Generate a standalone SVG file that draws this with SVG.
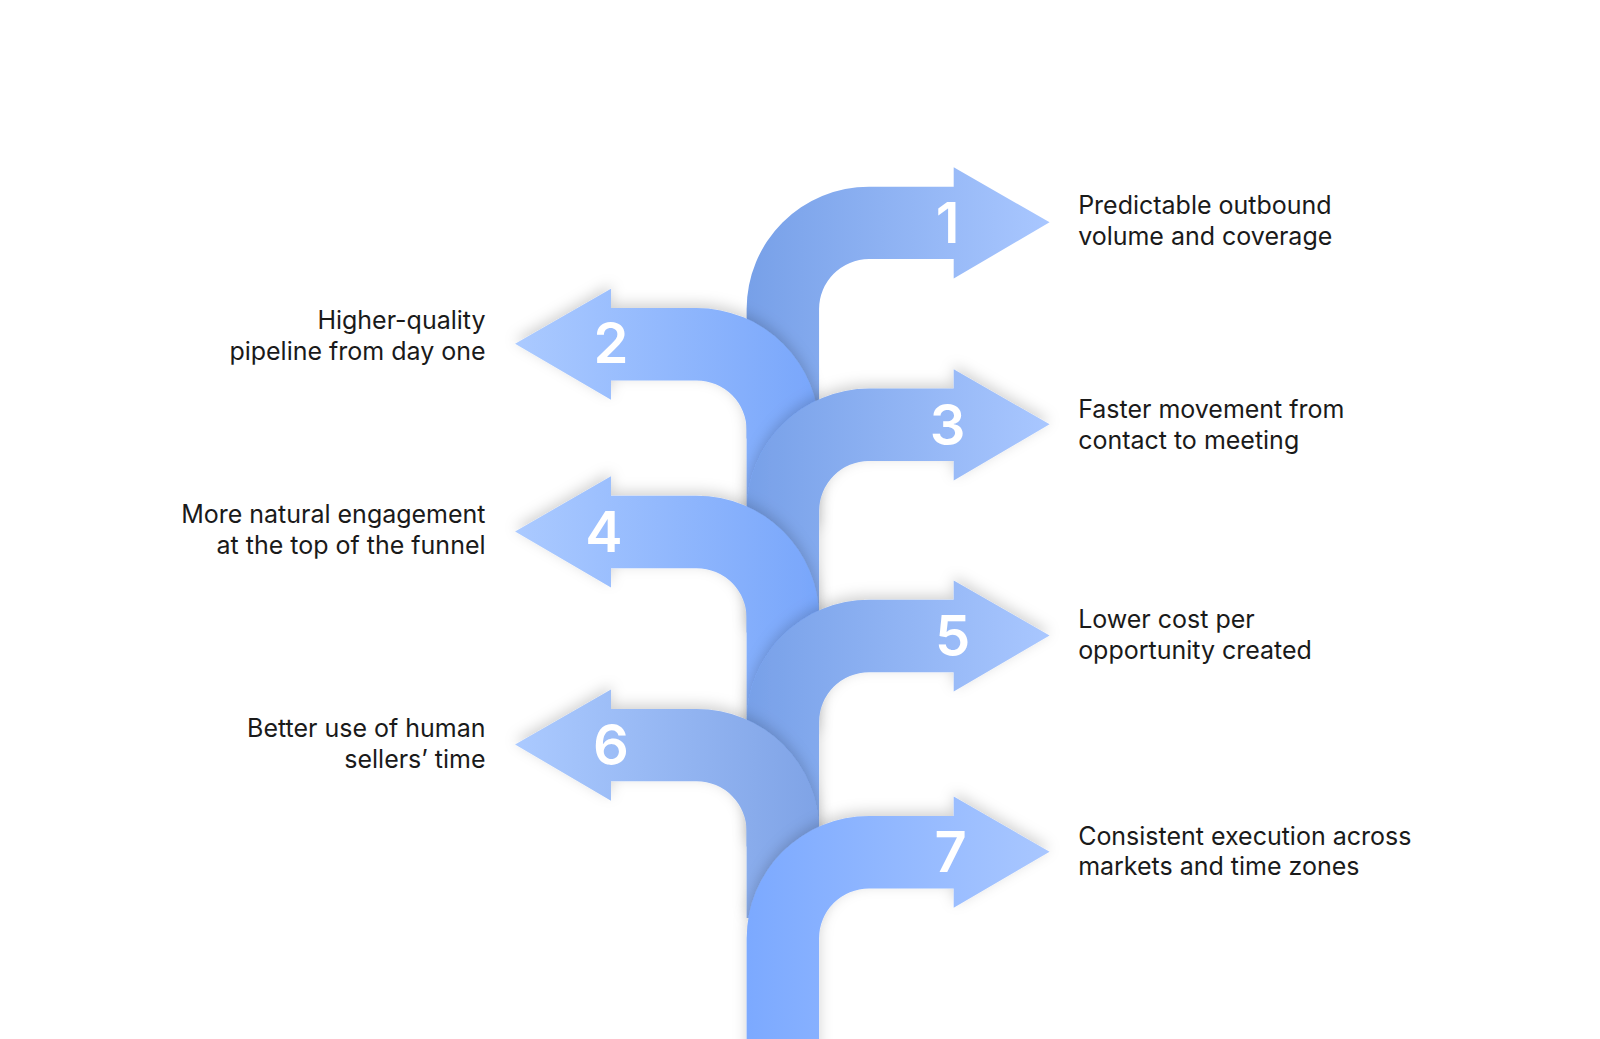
<svg xmlns="http://www.w3.org/2000/svg" width="1600" height="1039" viewBox="0 0 1600 1039">
<defs>
<linearGradient id="gr" x1="732" y1="0" x2="1029" y2="0" gradientUnits="userSpaceOnUse"><stop offset="0" stop-color="#77a0e8"/><stop offset="1" stop-color="#a9c7ff"/></linearGradient>
<linearGradient id="gl" x1="505" y1="0" x2="803" y2="0" gradientUnits="userSpaceOnUse"><stop offset="0" stop-color="#abcaff"/><stop offset="1" stop-color="#78a6fb"/></linearGradient>
<linearGradient id="gl6" x1="505" y1="0" x2="803" y2="0" gradientUnits="userSpaceOnUse"><stop offset="0" stop-color="#abcaff"/><stop offset="1" stop-color="#7fa3e6"/></linearGradient>
<linearGradient id="g7" x1="0" y1="800" x2="1029" y2="800" gradientUnits="userSpaceOnUse"><stop offset="0.7" stop-color="#7aa8ff"/><stop offset="1" stop-color="#a9c7ff"/></linearGradient>
<filter id="sh" x="-20%" y="-20%" width="140%" height="140%"><feDropShadow dx="0" dy="-4" stdDeviation="7" flood-color="#000" flood-opacity="0.18"/></filter>
<style>
.t{font-family:Inter,"Liberation Sans",sans-serif;font-size:24.5px;fill:#1a1a1a}
.r{text-anchor:end}
.n{font-family:Inter,"Liberation Sans",sans-serif;font-size:55px;font-weight:600;fill:#fff;text-anchor:middle}
</style>
</defs>
<g transform="scale(1.02)">
<g id="arrow1"><path fill="url(#gr)" d="M732 430 V303 A120 120 0 0 1 852 183 H935 V164 L1029 218 L935 273 V254 H852 A49 49 0 0 0 803 303 V430 Z"/><text class="n" x="929" y="238">1</text></g>
<g id="arrow2" filter="url(#sh)"><path fill="url(#gl)" d="M803 520 V422 A120 120 0 0 0 683 302 H599 V283 L505 337 L599 392 V373 H683 A49 49 0 0 1 732 422 V520 Z"/><text class="n" x="599" y="356">2</text></g>
<g id="arrow3" filter="url(#sh)"><path fill="url(#gr)" d="M732 620 V501 A120 120 0 0 1 852 381 H935 V362 L1029 416 L935 471 V452 H852 A49 49 0 0 0 803 501 V620 Z"/><text class="n" x="929" y="436">3</text></g>
<g id="arrow4" filter="url(#sh)"><path fill="url(#gl)" d="M803 720 V606 A120 120 0 0 0 683 486 H599 V467 L505 521 L599 576 V557 H683 A49 49 0 0 1 732 606 V720 Z"/><text class="n" x="592" y="541">4</text></g>
<g id="arrow5" filter="url(#sh)"><path fill="url(#gr)" d="M732 830 V708 A120 120 0 0 1 852 588 H935 V569 L1029 623 L935 678 V659 H852 A49 49 0 0 0 803 708 V830 Z"/><text class="n" x="934" y="643">5</text></g>
<g id="arrow6" filter="url(#sh)"><path fill="url(#gl6)" d="M803 900 V815 A120 120 0 0 0 683 695 H599 V676 L505 730 L599 785 V766 H683 A49 49 0 0 1 732 815 V900 Z"/><text class="n" x="599" y="750">6</text></g>
<g id="arrow7" filter="url(#sh)"><path fill="url(#g7)" d="M732 1039 V920 A120 120 0 0 1 852 800 H935 V781 L1029 835 L935 890 V871 H852 A49 49 0 0 0 803 920 V1039 Z"/><text class="n" x="932" y="855">7</text></g>
<g id="labels">
<text class="t" x="1057" y="210">Predictable outbound</text><text class="t" x="1057" y="240">volume and coverage</text>
<text class="t r" x="476" y="323">Higher-quality</text><text class="t r" x="476" y="353">pipeline from day one</text>
<text class="t" x="1057" y="410">Faster movement from</text><text class="t" x="1057" y="440">contact to meeting</text>
<text class="t r" x="476" y="513">More natural engagement</text><text class="t r" x="476" y="543">at the top of the funnel</text>
<text class="t" x="1057" y="616">Lower cost per</text><text class="t" x="1057" y="646">opportunity created</text>
<text class="t r" x="476" y="723">Better use of human</text><text class="t r" x="476" y="753">sellers’ time</text>
<text class="t" x="1057" y="828">Consistent execution across</text><text class="t" x="1057" y="858">markets and time zones</text>
</g>
<g id="connectors"/>
</g>
</svg>
